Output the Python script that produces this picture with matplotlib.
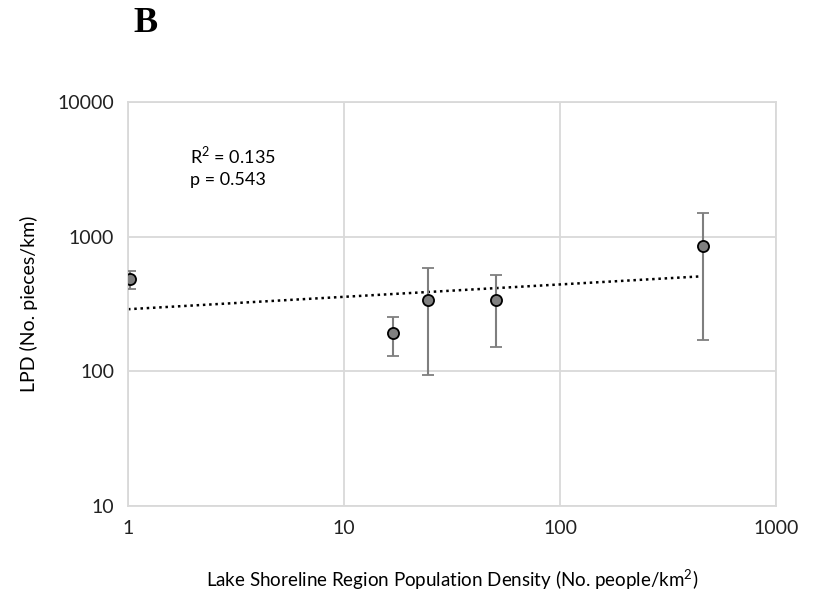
import numpy as np
import matplotlib.pyplot as plt

# data
pop_density = [1.02, 16.8, 24.6, 50.7, 461]
lpd = [482, 191, 337, 337, 852]
err_low = [406, 130, 94, 152, 171]
err_high = [556, 252, 582, 516, 1510]

plt.rcParams['font.family'] = ['Lato', 'DejaVu Sans']

fig = plt.figure(figsize=(8.15, 5.92), dpi=100)
ax = fig.add_axes([128/815, 1-506/592, 648/815, 404/592])

x = np.array(pop_density)
y = np.array(lpd)
yerr = [y - np.array(err_low), np.array(err_high) - y]

##power trendline fitted in log space
slope, icpt = np.polyfit(np.log10(x), np.log10(y), 1)
xt = np.logspace(0, np.log10(x.max()), 100)
ax.plot(xt, 10**icpt * xt**slope, color='black', linestyle=(0, (1, 1.5)), linewidth=1.8, zorder=2)

ax.errorbar(x, y, yerr=yerr, fmt='o', color='#808080', ecolor='#7f7f7f', elinewidth=1.5,
            capsize=4, capthick=1.5, markersize=8, markerfacecolor='#808080',
            markeredgecolor='black', markeredgewidth=1.3, zorder=3)

ax.set_xscale('log')
ax.set_yscale('log')
ax.set_xlim(1, 1000)
ax.set_ylim(10, 10000)
ax.set_xticks([1, 10, 100, 1000])
ax.set_xticklabels(['1', '10', '100', '1000'])
ax.set_yticks([10, 100, 1000, 10000])
ax.set_yticklabels(['10', '100', '1000', '10000'])
ax.minorticks_off()
ax.tick_params(length=0, labelsize=14, colors='#222222', pad=10)
ax.grid(True, color='#d9d9d9', linewidth=1.3)
for s in ax.spines.values():
    s.set_color('#d9d9d9')
    s.set_linewidth(1.3)
ax.set_axisbelow(True)

ax.text(0.096, 0.868, 'R$^{\\mathregular{2}}$ = 0.135', transform=ax.transAxes, fontsize=13, va='center')
ax.text(0.096, 0.806, 'p = 0.543', transform=ax.transAxes, fontsize=13, va='center')

ax.set_xlabel('Lake Shoreline Region Population Density (No. people/km$^{\\mathregular{2}}$)',
              fontsize=13.5, labelpad=22)
ax.set_ylabel('LPD (No. pieces/km)', fontsize=14, labelpad=14)

fig.text(133/815, 1-24/592, 'B', fontsize=26, fontweight='bold', family='Liberation Serif', va='center')

plt.savefig('out.png', dpi=100)
